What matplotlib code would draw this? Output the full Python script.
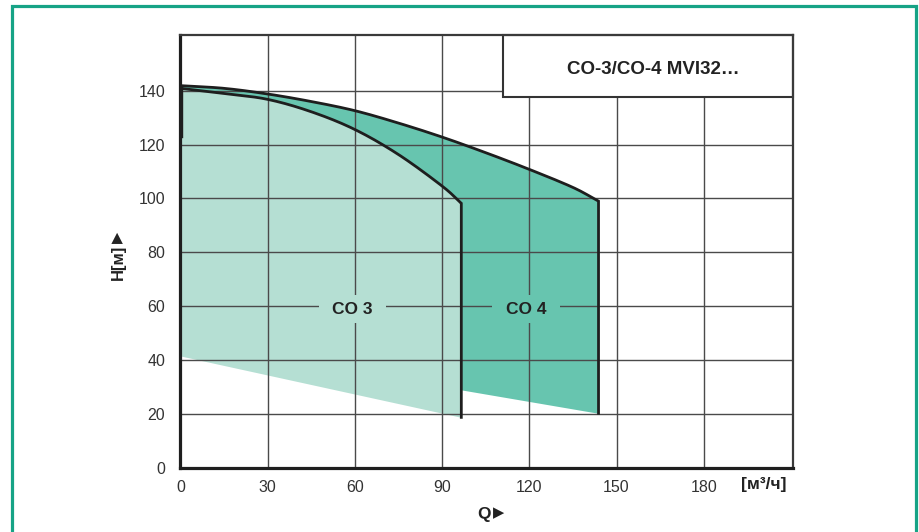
import matplotlib
matplotlib.use("Agg")
import matplotlib.pyplot as plt
from matplotlib.patches import Rectangle
import numpy as np

plt.rcParams['font.family'] = ['Liberation Sans', 'DejaVu Sans']

# Data
co3_q = [0, 15, 30, 45, 60, 75, 90, 96.6]
co3_h = [140.9, 139.0, 136.8, 132.2, 125.6, 116.3, 104.6, 98.2]
co3_bottom_q = [0, 96.6]
co3_bottom_h = [41.5, 18.7]

co4_q = [0, 15, 30, 45, 60, 75, 90, 105, 120, 135, 143.8]
co4_h = [141.9, 140.9, 138.8, 136.0, 132.6, 128.0, 122.8, 117.0, 110.8, 104.1, 99.0]
co4_bottom_q = [0, 96.6, 143.8]
co4_bottom_h = [46.7, 28.9, 20.2]

x_ticks = [0, 30, 60, 90, 120, 150, 180]
y_ticks = [0, 20, 40, 60, 80, 100, 120, 140]
title = "CO-3/CO-4 MVI32…"
labels = ["CO 3", "CO 4"]
label_pos = [(59.2, 58.9), (118.9, 58.9)]

light = '#b5dfd3'
dark = '#67c5af'
frame_green = '#17a386'


def smooth(xs, ys, n=20):
    """Catmull-Rom spline through the read points (drawing only)."""
    p = np.column_stack([xs, ys]).astype(float)
    p = np.vstack([2 * p[0] - p[1], p, 2 * p[-1] - p[-2]])
    out = []
    t = np.linspace(0, 1, n, endpoint=False)[:, None]
    for i in range(1, len(p) - 2):
        p0, p1, p2, p3 = p[i - 1], p[i], p[i + 1], p[i + 2]
        seg = 0.5 * ((2 * p1) + (-p0 + p2) * t + (2 * p0 - 5 * p1 + 4 * p2 - p3) * t ** 2
                     + (-p0 + 3 * p1 - 3 * p2 + p3) * t ** 3)
        out.append(seg)
    out.append(p[-2][None, :])
    a = np.vstack(out)
    return a[:, 0], a[:, 1]


W, H = 920, 532
fig = plt.figure(figsize=(W / 100, H / 100), dpi=100)
ax = fig.add_axes([180.5 / W, 1 - 467.7 / H, (792.7 - 180.5) / W, (467.7 - 35.3) / H])
XMAX, YMAX = 210.6, 160.6
ax.set_xlim(0, XMAX)
ax.set_ylim(0, YMAX)

sx4, sy4 = smooth(co4_q, co4_h)
sx3, sy3 = smooth(co3_q, co3_h)

# CO4 fill
b4 = np.interp(sx4, co4_bottom_q, co4_bottom_h)
ax.fill_between(sx4, b4, sy4, color=dark, lw=0, zorder=1)
# CO3 fill
b3 = np.interp(sx3, co3_bottom_q, co3_bottom_h)
ax.fill_between(sx3, b3, sy3, color=light, lw=0, zorder=1.5)

# grid (axis artists sit at zorder 2.5 when axisbelow is False)
ax.set_xticks(x_ticks)
ax.set_yticks(y_ticks)
ax.grid(True, color='#4a4a4a', lw=1.0)
ax.set_axisbelow(False)

# curves
ax.plot(list(sx4) + [co4_q[-1]], list(sy4) + [co4_bottom_h[-1]], color='#1e1e1e', lw=2.0,
        zorder=4, solid_joinstyle='miter')
ax.plot(list(sx3) + [co3_q[-1]], list(sy3) + [co3_bottom_h[-1]], color='#1e1e1e', lw=2.0,
        zorder=4, solid_joinstyle='miter')
ax.plot([0.4, 0.4], [co4_h[0], 123], color='#1e1e1e', lw=1.0, zorder=4)

# title box
ax.add_patch(Rectangle((110.8, 137.8), XMAX - 110.8, YMAX - 137.8, facecolor='white',
                       edgecolor='#333333', lw=1.5, zorder=5, clip_on=False))
ax.text(162.6, 147.8, title, ha='center', va='center',
        fontsize=13.5, fontweight='bold', color='#222222', zorder=6)

# region labels with gaps in the grid
for lab, (lx, ly), fc in zip(labels, label_pos, [light, dark]):
    ax.add_patch(Rectangle((lx - 11.6, ly - 5.3), 23.2, 10.6, facecolor=fc, edgecolor='none',
                           zorder=2.8))
    ax.text(lx, ly, lab, ha='center', va='center', fontsize=12.5, fontweight='bold',
            color='#222222', zorder=3)

# spines
for s in ['left', 'bottom']:
    ax.spines[s].set_linewidth(2.3)
    ax.spines[s].set_color('#1e1e1e')
for s in ['top', 'right']:
    ax.spines[s].set_linewidth(1.6)
    ax.spines[s].set_color('#3a3a3a')
for s in ax.spines.values():
    s.set_zorder(7)

ax.tick_params(length=0, labelsize=11.5, labelcolor='#333333')
ax.tick_params(axis='y', pad=11)
ax.tick_params(axis='x', pad=9)

# axis labels
fig.text(764 / W, 1 - 485 / H, "[м³/ч]", ha='center', va='center', fontsize=12.5,
         fontweight='bold', color='#222222')
fig.text(484 / W, 1 - 514 / H, "Q", ha='center', va='center', fontsize=12.5,
         fontweight='bold', color='#222222')
fig.text(499 / W, 1 - 513 / H, "▶", ha='center', va='center', fontsize=10.5,
         color='#222222', family='DejaVu Sans')
fig.text(118 / W, 1 - 262 / H, "H[м]", ha='center', va='center', fontsize=12,
         fontweight='bold', color='#222222', rotation=90)
fig.text(118 / W, 1 - 237 / H, "▶", ha='center', va='center', fontsize=10.5,
         color='#222222', rotation=90, family='DejaVu Sans')

# green frame
fig.patches.append(Rectangle((11.8 / W, -0.05), (915.8 - 11.8) / W, 1.05 - 6.3 / H,
                             transform=fig.transFigure, fill=False,
                             edgecolor=frame_green, lw=2.3))

fig.savefig('out.png', dpi=100)
